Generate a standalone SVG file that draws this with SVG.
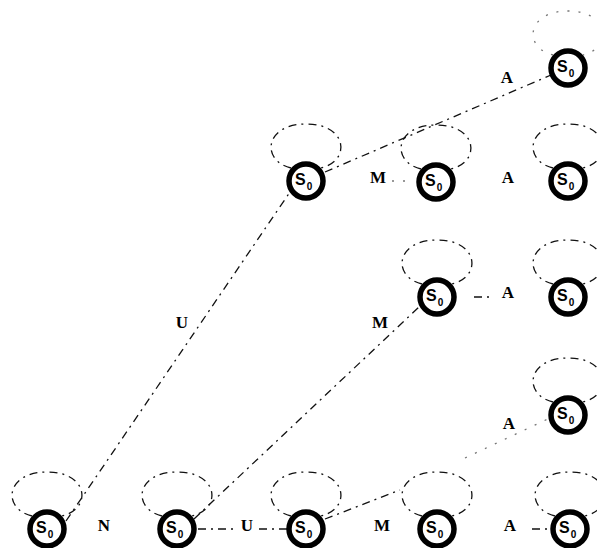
<svg xmlns="http://www.w3.org/2000/svg" width="597" height="548" viewBox="0 0 597 548">
<style>
.node circle{fill:#fff;stroke:#000;stroke-width:5.5}
.node text{font-family:"Liberation Sans",Arial,sans-serif;font-weight:bold;font-size:16px;fill:#000}
.node .sub{font-size:10px}
.lbl{font-family:"Liberation Serif","Times New Roman",serif;font-weight:bold;font-size:17px;fill:#000;text-anchor:middle}
.c path{fill:none;stroke:#111;stroke-width:1.3;stroke-dasharray:8 5 2 5}
.c path.faint{stroke:#777;stroke-dasharray:2 9}
</style>
<g id="connectors" class="c">
<path d="M32,516 C2,509 5,472 47,472 C89,472 92,509 62,516"/>
<path d="M162,516 C132,509 135,472 177,472 C219,472 222,509 192,516"/>
<path d="M291,516 C261,509 264,472 306,472 C348,472 351,509 321,516"/>
<path d="M422,516 C392,509 395,472 437,472 C479,472 482,509 452,516"/>
<path d="M555,516 C525,509 528,472 570,472 C612,472 615,509 585,516"/>
<path d="M553,402 C523,395 526,358 568,358 C610,358 613,395 583,402"/>
<path d="M422,284 C392,277 395,240 437,240 C479,240 482,277 452,284"/>
<path d="M553,284 C523,277 526,240 568,240 C610,240 613,277 583,284"/>
<path d="M291,168 C261,161 264,124 306,124 C348,124 351,161 321,168"/>
<path d="M421,169 C391,162 394,125 436,125 C478,125 481,162 451,169"/>
<path d="M553,168 C523,161 526,124 568,124 C610,124 613,161 583,168"/>
<path class="faint" d="M553,55 C523,48 526,11 568,11 C610,11 613,48 583,55"/>
<path d="M66,521 L290,192"/>
<path d="M194,519 L419,307"/>
<path d="M325,172 L551,75"/>
<path d="M198,529 L236,529 M259,529 L287,529"/>
<path d="M325,519 L400,490"/>
<path d="M532,529 L551,529"/>
<path d="M474,297 L490,297"/>
<path class="faint" d="M465,458 L552,417"/>
<path class="faint" d="M392,181 L414,181"/>
</g>
<g id="labels">
<text class="lbl" x="104" y="531">N</text>
<text class="lbl" x="247" y="531">U</text>
<text class="lbl" x="382" y="531">M</text>
<text class="lbl" x="510" y="531">A</text>
<text class="lbl" x="509" y="429">A</text>
<text class="lbl" x="508" y="298">A</text>
<text class="lbl" x="378" y="183">M</text>
<text class="lbl" x="508" y="183">A</text>
<text class="lbl" x="507" y="83">A</text>
<text class="lbl" x="182" y="328">U</text>
<text class="lbl" x="380" y="328">M</text>
</g>
<g id="n1" class="node" transform="translate(47,529)"><circle r="17"/><text x="-11" y="4">S<tspan class="sub" dx="1" dy="5">0</tspan></text></g>
<g id="n2" class="node" transform="translate(177,529)"><circle r="17"/><text x="-11" y="4">S<tspan class="sub" dx="1" dy="5">0</tspan></text></g>
<g id="n3" class="node" transform="translate(306,529)"><circle r="17"/><text x="-11" y="4">S<tspan class="sub" dx="1" dy="5">0</tspan></text></g>
<g id="n4" class="node" transform="translate(437,529)"><circle r="17"/><text x="-11" y="4">S<tspan class="sub" dx="1" dy="5">0</tspan></text></g>
<g id="n5" class="node" transform="translate(570,529)"><circle r="17"/><text x="-11" y="4">S<tspan class="sub" dx="1" dy="5">0</tspan></text></g>
<g id="n6" class="node" transform="translate(568,415)"><circle r="17"/><text x="-11" y="4">S<tspan class="sub" dx="1" dy="5">0</tspan></text></g>
<g id="n7" class="node" transform="translate(437,297)"><circle r="17"/><text x="-11" y="4">S<tspan class="sub" dx="1" dy="5">0</tspan></text></g>
<g id="n8" class="node" transform="translate(568,297)"><circle r="17"/><text x="-11" y="4">S<tspan class="sub" dx="1" dy="5">0</tspan></text></g>
<g id="n9" class="node" transform="translate(306,181)"><circle r="17"/><text x="-11" y="4">S<tspan class="sub" dx="1" dy="5">0</tspan></text></g>
<g id="n10" class="node" transform="translate(436,182)"><circle r="17"/><text x="-11" y="4">S<tspan class="sub" dx="1" dy="5">0</tspan></text></g>
<g id="n11" class="node" transform="translate(568,181)"><circle r="17"/><text x="-11" y="4">S<tspan class="sub" dx="1" dy="5">0</tspan></text></g>
<g id="n12" class="node" transform="translate(568,68)"><circle r="17"/><text x="-11" y="4">S<tspan class="sub" dx="1" dy="5">0</tspan></text></g>
</svg>
